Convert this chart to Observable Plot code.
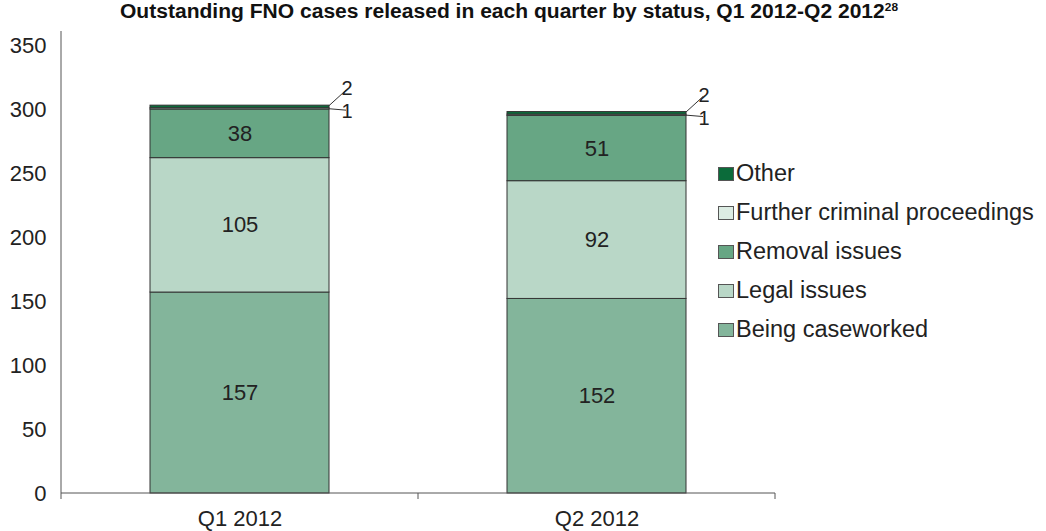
<!DOCTYPE html>
<html>
<head>
<meta charset="utf-8">
<script src="https://cdn.jsdelivr.net/npm/d3@7"></script>
<script src="https://cdn.jsdelivr.net/npm/@observablehq/plot@0.6"></script>
<style>
  html, body { margin: 0; padding: 0; background: #fff; }
  #wrap { position: relative; width: 1046px; height: 531px; font-family: "Liberation Sans", Arial, sans-serif; }
  #title { position: absolute; left: 0; top: 0; }
  #chart { position: absolute; left: 0; top: 22px; }
  #legend { position: absolute; left: 718px; top: 154px; }
  .item { display: flex; align-items: center; height: 39px; font-size: 23.5px; color: #222; white-space: nowrap; }
  .sw { width: 16px; height: 14px; border: 1px solid #555; box-sizing: border-box; margin-right: 2px; flex: none; }
</style>
</head>
<body>
<div id="wrap">
  <svg id="title" width="1046" height="24">
    <text x="120" y="18" textLength="778" lengthAdjust="spacingAndGlyphs"
      font-family="'Liberation Sans Narrow', 'Liberation Sans', sans-serif" font-weight="bold" font-size="19.5" fill="#111">Outstanding FNO cases released in each quarter by status, Q1 2012-Q2 2012<tspan font-size="11" dy="-7">28</tspan></text>
  </svg>
  <div id="chart"></div>
  <div id="legend"></div>
</div>
<script>
const quarters = ["Q1 2012", "Q2 2012"];
const statuses = ["Being caseworked", "Legal issues", "Removal issues", "Further criminal proceedings", "Other"];
const beingCaseworked = [157, 152];
const legalIssues = [105, 92];
const removalIssues = [38, 51];
const furtherCriminal = [1, 1];
const other = [2, 2];
const colors = ["#83b59b", "#b9d7c7", "#67a684", "#dcece3", "#0b6b3a"];
const yTicks = [0, 50, 100, 150, 200, 250, 300, 350];

const seriesValues = [beingCaseworked, legalIssues, removalIssues, furtherCriminal, other];
const data = [];
quarters.forEach((q, i) => {
  statuses.forEach((s, j) => data.push({quarter: q, status: s, value: seriesValues[j][i]}));
});

const W = 1046, H = 509;
const plot = Plot.plot({
  width: W, height: H,
  marginLeft: 60, marginRight: 271, marginTop: 23, marginBottom: 38,
  style: {fontFamily: "'Liberation Sans', Arial, sans-serif", fontSize: "22px", color: "#222", background: "#fff"},
  x: {domain: quarters, paddingInner: 0.5, paddingOuter: 0.25, axis: null, label: null},
  y: {domain: [0, 350], axis: null, label: null},
  color: {domain: statuses, range: colors},
  marks: [
    Plot.barY(data, Plot.stackY({x: "quarter", y: "value", z: "status", fill: "status", stroke: "#333", strokeWidth: 1})),
    Plot.text(data, Plot.stackY({x: "quarter", y: "value", z: "status",
      text: d => d.value >= 10 ? String(d.value) : "", fill: "#222", fontSize: 22})),
    Plot.axisY(yTicks, {tickSize: 0, tickPadding: 14, fontSize: 22, fill: "#222", label: null}),
    Plot.axisX(quarters, {tickSize: 0, tickPadding: 17, fontSize: 22, fill: "#222", label: null})
  ]
});
document.getElementById("chart").appendChild(plot);

// Axis lines, boundary ticks and leader labels, positioned from Plot's own scales
const xs = plot.scale("x"), ys = plot.scale("y");
const svg = d3.select(plot);
const g = svg.append("g").attr("stroke", "#555").attr("stroke-width", 1);
const y0 = ys.apply(0), yTop = ys.apply(350);
const bw = xs.bandwidth, step = xs.step;
const left = xs.apply(quarters[0]) - (step - bw) / 2;
const right = xs.apply(quarters[quarters.length - 1]) + bw + (step - bw) / 2;
g.append("line").attr("x1", left).attr("x2", left).attr("y1", yTop - 14).attr("y2", y0);
g.append("line").attr("x1", left).attr("x2", right).attr("y1", y0).attr("y2", y0);
const bounds = [left].concat(quarters.map(q => xs.apply(q) + bw + (step - bw) / 2));
bounds.forEach(b => g.append("line").attr("x1", b).attr("x2", b).attr("y1", y0).attr("y2", y0 + 6));

const lg = svg.append("g");
quarters.forEach((q, i) => {
  const xEdge = xs.apply(q) + bw;
  const total = seriesValues.reduce((a, s) => a + s[i], 0);
  const topY = ys.apply(total);
  const base1 = ys.apply(total - other[i]);
  const pts = [
    {label: other[i], y1: topY + 0.5, y2: topY - 15, by: topY - 10},
    {label: furtherCriminal[i], y1: base1 + 1, y2: topY + 5, by: topY + 13}
  ];
  pts.forEach(p => {
    lg.append("line").attr("x1", xEdge).attr("y1", p.y1).attr("x2", xEdge + 17).attr("y2", p.y2)
      .attr("stroke", "#333").attr("stroke-width", 1);
    lg.append("text").attr("x", xEdge + 18).attr("y", p.by).attr("font-size", 20).attr("fill", "#222").text(p.label);
  });
});

// Legend
const legend = document.getElementById("legend");
statuses.slice().reverse().forEach(s => {
  const it = document.createElement("div"); it.className = "item";
  const sw = document.createElement("div"); sw.className = "sw";
  sw.style.background = colors[statuses.indexOf(s)];
  const t = document.createElement("span"); t.textContent = s;
  it.appendChild(sw); it.appendChild(t); legend.appendChild(it);
});
</script>
</body>
</html>
